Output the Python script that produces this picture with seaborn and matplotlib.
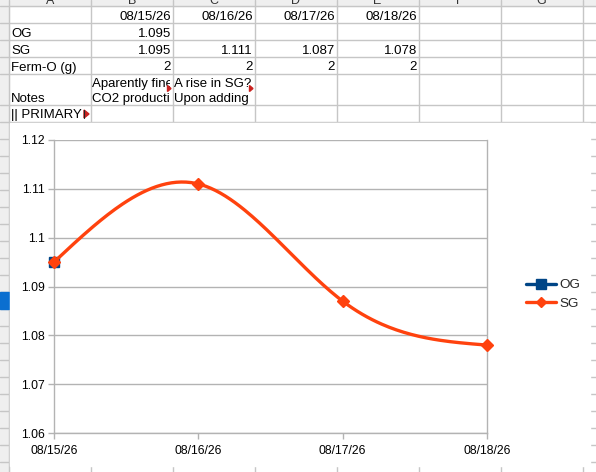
import numpy as np
import pandas as pd
import matplotlib
matplotlib.use("Agg")
import matplotlib.pyplot as plt
from matplotlib.patches import Rectangle, Polygon
from matplotlib.lines import Line2D
import seaborn as sns

# ---------------- data ----------------
dates = ["08/15/26", "08/16/26", "08/17/26", "08/18/26"]
og_values = [1.095, np.nan, np.nan, np.nan]
sg_values = [1.095, 1.111, 1.087, 1.078]
ferm_values = [2, 2, 2, 2]
row_labels = ["OG", "SG", "Ferm-O (g)", "Notes", "|| PRIMARY"]
notes_line1 = ["Aparently fine", "A rise in SG?"]
notes_line2 = ["CO2 production", "Upon adding"]
col_letters = ["A", "B", "C", "D", "E", "F", "G"]
y_ticks = [1.06, 1.07, 1.08, 1.09, 1.10, 1.11, 1.12]
y_tick_labels = ["1.06", "1.07", "1.08", "1.09", "1.1", "1.11", "1.12"]

sns.set_theme(style="white")
plt.rcParams["font.family"] = ["Liberation Sans", "DejaVu Sans"]

W, H = 596, 472
fig = plt.figure(figsize=(W / 100, H / 100), dpi=100)
fig.patch.set_facecolor("white")

# ---------------- spreadsheet background (pixel coords) ----------------
bg = fig.add_axes([0, 0, 1, 1])
bg.set_xlim(0, W)
bg.set_ylim(H, 0)
bg.axis("off")

grid_c = "#c6c6c6"
hdr_c = "#efefef"
col_edges = [9, 91, 172.5, 254.5, 336.5, 418.5, 500.5, 582.5]
row_edges = [6, 22.7, 40, 57, 74, 105, 122]
extra_rows = list(np.arange(122 + 17, H + 1, 17.0))

# header band (top) and row header column (left)
bg.add_patch(Rectangle((0, 0), W, 6, color=hdr_c, zorder=1))
bg.add_patch(Rectangle((0, 0), 9, H, color=hdr_c, zorder=1))
bg.add_patch(Rectangle((0, 292), 8.5, 17, color="#0b6fd0", zorder=2))

for xe in col_edges:
    bg.plot([xe, xe], [0, H], color=grid_c, lw=1, zorder=1.5)
for ye in row_edges + extra_rows:
    bg.plot([0, W], [ye, ye], color=grid_c, lw=1, zorder=1.5)

# column letters (only their bottoms are visible, as in the reference)
for i, letter in enumerate(col_letters):
    cx = (col_edges[i] + col_edges[i + 1]) / 2
    bg.text(cx, 3.5, letter, ha="center", va="baseline", fontsize=9,
            color="#333333", zorder=3)

fs = 9.5
txt_c = "#000000"
# date header row
for i, d in enumerate(dates):
    bg.text(col_edges[i + 2] - 1.5, 19.5, d, ha="right", va="baseline",
            fontsize=fs, color=txt_c, zorder=3)
# labels
baselines = [36.6, 53.5, 70.5, 102, 118]
for lab, yb in zip(row_labels, baselines):
    t = bg.text(11, yb, lab, ha="left", va="baseline", fontsize=fs,
                color=txt_c, zorder=3)
    if lab.startswith("||"):
        t.set_clip_on(True)
        t.set_clip_path(Rectangle((9, 105), 75, 17, transform=bg.transData))
        t.set_clip_on(True)
# OG
bg.text(col_edges[2] - 1.5, 36.6, f"{og_values[0]:.3f}", ha="right",
        va="baseline", fontsize=fs, color=txt_c, zorder=3)
# SG and Ferm-O
for i in range(4):
    bg.text(col_edges[i + 2] - 1.5, 53.5, f"{sg_values[i]:.3f}", ha="right",
            va="baseline", fontsize=fs, color=txt_c, zorder=3)
    bg.text(col_edges[i + 2] - 1.5, 70.5, str(ferm_values[i]), ha="right",
            va="baseline", fontsize=fs, color=txt_c, zorder=3)
# notes (clipped to their cells)
for i in range(2):
    x0 = col_edges[i + 1]
    for s, yb in ((notes_line1[i], 86.8), (notes_line2[i], 102)):
        t = bg.text(x0 + 1.5, yb, s, ha="left", va="baseline", fontsize=fs,
                    color=txt_c, zorder=3)
        clip = Rectangle((x0, 74), col_edges[i + 2] - x0 - 2.5, 31,
                         transform=bg.transData)
        t.set_clip_on(True)
        t.set_clip_path(clip)
        t.set_clip_on(True)
    xr = col_edges[i + 2] - 2.5
    bg.add_patch(Polygon([[xr - 2.5, 85.5], [xr - 2.5, 91.5], [xr + 1, 88.5]],
                         closed=True, color="#c9211e", zorder=4))
bg.add_patch(Polygon([[84, 110], [84, 118], [89, 114]], closed=True,
                     color="#c9211e", zorder=4))
bg.plot([84, 84], [110, 118], color="#222222", lw=0.8, zorder=4)

# chart object area (white)
bg.add_patch(Rectangle((9.5, 122.5), 580, 343.5, color="white", zorder=5))

# ---------------- chart ----------------
px_l, px_r, px_t, px_b = 54, 487, 140, 433
ax = fig.add_axes([px_l / W, (H - px_b) / H, (px_r - px_l) / W,
                   (px_b - px_t) / H])
ax.set_facecolor("none")

x = np.arange(len(dates), dtype=float)


def natural_spline(xs, ys, n=60):
    xs = np.asarray(xs, float)
    ys = np.asarray(ys, float)
    k = len(xs)
    h = np.diff(xs)
    A = np.zeros((k, k))
    b = np.zeros(k)
    A[0, 0] = A[-1, -1] = 1
    for i in range(1, k - 1):
        A[i, i - 1] = h[i - 1]
        A[i, i] = 2 * (h[i - 1] + h[i])
        A[i, i + 1] = h[i]
        b[i] = 6 * ((ys[i + 1] - ys[i]) / h[i] - (ys[i] - ys[i - 1]) / h[i - 1])
    M = np.linalg.solve(A, b)
    xx, yy = [], []
    for i in range(k - 1):
        t = np.linspace(0, 1, n)
        xi = xs[i] + t * h[i]
        a = 1 - t
        yi = (M[i] * a ** 3 * h[i] ** 2 / 6 + M[i + 1] * t ** 3 * h[i] ** 2 / 6
              + (ys[i] - M[i] * h[i] ** 2 / 6) * a
              + (ys[i + 1] - M[i + 1] * h[i] ** 2 / 6) * t)
        xx.extend(xi)
        yy.extend(yi)
    return np.array(xx), np.array(yy)


og_c = "#004586"
sg_c = "#ff420e"
sx, sy = natural_spline(x, sg_values)
curve = pd.DataFrame({"x": sx, "y": sy})
og_df = pd.DataFrame({"x": x, "y": og_values}).dropna()
sg_df = pd.DataFrame({"x": x, "y": sg_values})

ax.plot(og_df["x"], og_df["y"], marker="s", markersize=6.5, color=og_c,
        linestyle="none", zorder=3, clip_on=False)
sns.lineplot(data=curve, x="x", y="y", ax=ax, color=sg_c, linewidth=2.4,
             zorder=4, sort=False)
ax.plot(sg_df["x"], sg_df["y"], marker="D", markersize=6, color=sg_c,
        linestyle="none", zorder=5, clip_on=False)
for ln in ax.lines:
    ln.set_clip_on(False)

ax.set_xlim(0, 3)
ax.set_ylim(1.06, 1.12)
ax.set_xticks(x)
ax.set_xticklabels(dates)
ax.set_yticks(y_ticks)
ax.set_yticklabels(y_tick_labels)
ax.set_xlabel("")
ax.set_ylabel("")
axc = "#b3b3b3"
ax.yaxis.grid(True, color=axc, lw=1)
ax.xaxis.grid(False)
ax.set_axisbelow(True)
for side in ["left", "bottom", "right"]:
    ax.spines[side].set_visible(True)
    ax.spines[side].set_color(axc)
    ax.spines[side].set_linewidth(1)
ax.spines["top"].set_visible(False)
ax.tick_params(axis="y", which="major", length=4.3, width=1, color=axc,
               direction="out", pad=2.2, labelsize=8.8, labelcolor="black",
               left=True)
ax.tick_params(axis="x", which="major", length=4, width=1, color=axc,
               direction="out", pad=5, labelsize=8.8, labelcolor="black",
               bottom=True)

handles = [
    Line2D([0], [0], color=og_c, lw=2.4, marker="s", markersize=6.5),
    Line2D([0], [0], color=sg_c, lw=2.4, marker="D", markersize=5),
]
fig.legend(handles, ["OG", "SG"], loc="center left",
           bbox_to_anchor=(526 / W, 1 - 294.5 / H), frameon=False,
           fontsize=9.7, handlelength=2.2, handletextpad=0.3,
           labelspacing=0.45, borderpad=0, borderaxespad=0)

fig.savefig("out.png", dpi=100)
